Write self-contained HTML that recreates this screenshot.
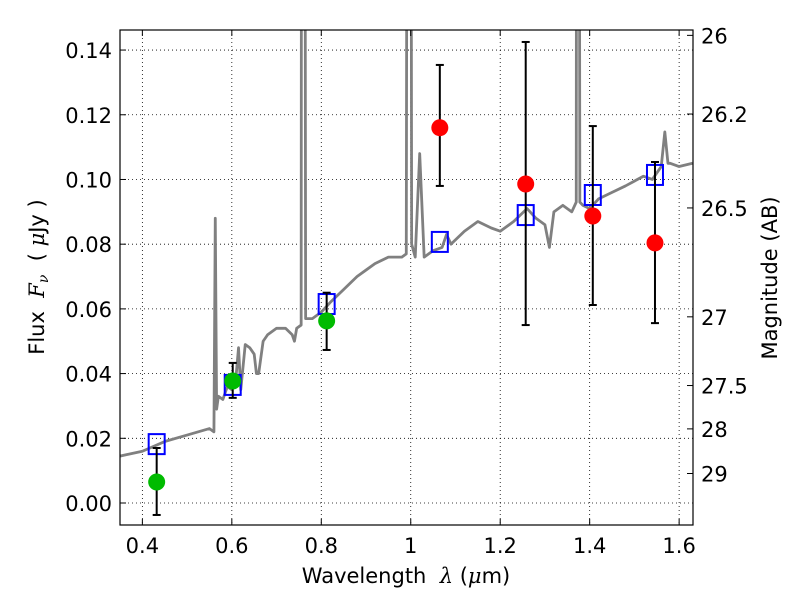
<!DOCTYPE html>
<html><head><meta charset="utf-8"><style>
body{margin:0;background:#fff}
svg text{font-family:"DejaVu Sans","Liberation Sans",sans-serif;font-size:21px;fill:#000}
</style></head><body>
<svg id="c" width="800" height="600" xmlns="http://www.w3.org/2000/svg">
<defs><clipPath id="clip"><rect x="120" y="30" width="573" height="495"/></clipPath></defs>
<rect width="800" height="600" fill="#fff"/>
<g id="grid"></g>
<g id="spec" clip-path="url(#clip)"></g>
<g id="marks"></g>
<rect x="120" y="30" width="573" height="495" fill="none" stroke="#000" stroke-width="1.2"/>
<g id="axes"></g>
<text x="406" y="583" text-anchor="middle">Wavelength&#160;&#160;<tspan font-style="italic" font-family="DejaVu Serif">λ</tspan> (<tspan font-style="italic" font-family="DejaVu Serif">μ</tspan>m)</text>
<text transform="translate(44,277) rotate(-90)" text-anchor="middle">Flux&#160;&#160;<tspan font-style="italic" font-family="DejaVu Serif">F<tspan font-size="14" dy="4">ν</tspan></tspan><tspan dy="-4">&#160;&#160;(&#160;</tspan><tspan font-style="italic" font-family="DejaVu Serif">μ</tspan>Jy&#160;)</text>
<text transform="translate(777,278) rotate(-90)" text-anchor="middle">Magnitude (AB)</text>
</svg>
<script>
const specLam=[0.35,0.40,0.45,0.50,0.55,0.560,0.563,0.566,0.57,0.58,0.59,0.60,0.61,0.615,0.62,0.63,0.64,0.65,0.655,0.66,0.67,0.68,0.70,0.72,0.735,0.74,0.745,0.755,0.757,0.761,0.765,0.78,0.80,0.82,0.85,0.88,0.90,0.92,0.95,0.98,0.99,0.995,0.998,1.002,1.01,1.02,1.03,1.05,1.07,1.08,1.09,1.12,1.15,1.18,1.20,1.23,1.26,1.28,1.30,1.31,1.32,1.34,1.36,1.37,1.372,1.374,1.378,1.385,1.40,1.42,1.45,1.48,1.52,1.54,1.56,1.568,1.575,1.58,1.60,1.63];
const specFlux=[0.0145,0.016,0.019,0.021,0.023,0.022,0.088,0.029,0.033,0.032,0.036,0.035,0.040,0.048,0.035,0.049,0.048,0.046,0.040,0.040,0.050,0.052,0.054,0.054,0.052,0.050,0.054,0.055,0.5,0.5,0.057,0.057,0.059,0.062,0.066,0.070,0.072,0.074,0.076,0.076,0.077,0.5,0.5,0.080,0.076,0.108,0.076,0.078,0.079,0.083,0.080,0.084,0.087,0.085,0.084,0.087,0.091,0.088,0.086,0.079,0.090,0.092,0.090,0.093,0.5,0.5,0.093,0.092,0.091,0.094,0.096,0.098,0.101,0.100,0.104,0.1147,0.105,0.105,0.104,0.105];
const bandLam=[0.432,0.602,0.812,1.065,1.257,1.407,1.546];
const obsFlux=[0.0065,0.0377,0.0563,0.116,0.0986,0.0887,0.0804];
const errHi=[0.017,0.0433,0.065,0.1354,0.1425,0.1165,0.1054];
const errLo=[-0.0037,0.0325,0.0473,0.098,0.055,0.0612,0.0556];
const modelFlux=[0.0182,0.0365,0.0615,0.0807,0.089,0.0952,0.1014];
const obsColor=['#00bb00','#00bb00','#00bb00','#ff0000','#ff0000','#ff0000','#ff0000'];
const xTicks=[0.4,0.6,0.8,1.0,1.2,1.4,1.6];
const xTickLabels=['0.4','0.6','0.8','1','1.2','1.4','1.6'];
const yTicks=[0,0.02,0.04,0.06,0.08,0.10,0.12,0.14];
const yTickLabels=['0.00','0.02','0.04','0.06','0.08','0.10','0.12','0.14'];
const magTicks=[26,26.2,26.5,27,27.5,28,29];
const magTickLabels=['26','26.2','26.5','27','27.5','28','29'];
const NS='http://www.w3.org/2000/svg';
const X0=120,X1=693,Y0=525,Y1=30,xmin=0.35,xmax=1.631,ymin=-0.0068,ymax=0.1462;
const sx=v=>X0+(v-xmin)/(xmax-xmin)*(X1-X0);
const sy=v=>Y0-(v-ymin)/(ymax-ymin)*(Y0-Y1);
const magToFlux=m=>Math.pow(10,-0.4*(m-23.9));
function mk(tag,attrs,parent){const e=document.createElementNS(NS,tag);for(const k in attrs)e.setAttribute(k,attrs[k]);parent.appendChild(e);return e;}
const grid=document.getElementById('grid'),axes=document.getElementById('axes'),spec=document.getElementById('spec'),marks=document.getElementById('marks');
xTicks.forEach((t,i)=>{const x=sx(t);
 const g=mk('line',{x1:x,x2:x,y1:Y1,y2:Y0,stroke:'#000','stroke-width':0.8,'stroke-dasharray':'1,3'},grid);
 
 mk('line',{x1:x,x2:x,y1:Y0,y2:Y0-6,stroke:'#000'},axes);mk('line',{x1:x,x2:x,y1:Y1,y2:Y1+6,stroke:'#000'},axes);
 const tx=mk('text',{x:x,y:Y0+28,'text-anchor':'middle'},axes);tx.textContent=xTickLabels[i];
 });
yTicks.forEach((t,i)=>{const y=sy(t);
 const g=mk('line',{x1:X0,x2:X1,y1:y,y2:y,stroke:'#000','stroke-width':0.8,'stroke-dasharray':'1,3'},grid);
 
 mk('line',{x1:X0,x2:X0+6,y1:y,y2:y,stroke:'#000'},axes);
 const tx=mk('text',{x:X0-8,y:y+8,'text-anchor':'end'},axes);tx.textContent=yTickLabels[i];
 });
magTicks.forEach((m,i)=>{const y=sy(magToFlux(m));
 mk('line',{x1:X1,x2:X1-6,y1:y,y2:y,stroke:'#000'},axes);
 const tx=mk('text',{x:X1+8,y:y+8,'text-anchor':'start'},axes);tx.textContent=magTickLabels[i];
 });
const p=mk('polyline',{points:specLam.map((l,i)=>sx(l)+','+sy(specFlux[i])).join(' '),fill:'none',stroke:'#808080','stroke-width':2.8,'stroke-linejoin':'round'},spec);

bandLam.forEach((l,i)=>{const x=sx(l);
 const s=mk('rect',{x:x-8,y:sy(modelFlux[i])-10,width:16,height:20,fill:'none',stroke:'#0000ff','stroke-width':2},marks);
 
 const e=mk('g',{stroke:'#000','stroke-width':2},marks);
 
 mk('line',{x1:x,x2:x,y1:sy(errHi[i]),y2:sy(errLo[i])},e);
 mk('line',{x1:x-4,x2:x+4,y1:sy(errHi[i]),y2:sy(errHi[i])},e);
 mk('line',{x1:x-4,x2:x+4,y1:sy(errLo[i]),y2:sy(errLo[i])},e);
 const c=mk('circle',{cx:x,cy:sy(obsFlux[i]),r:8.5,fill:obsColor[i]},marks);
 });
</script>
</body></html>
